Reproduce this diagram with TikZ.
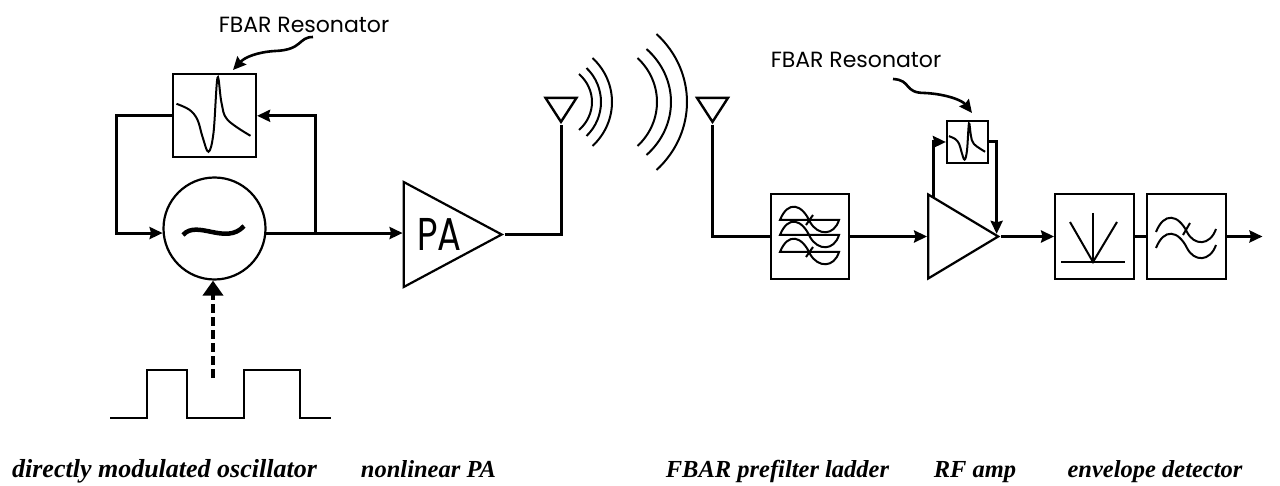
\documentclass[tikz,border=0pt]{standalone}
\usepackage{fontspec}
\usepackage{graphicx}
\usetikzlibrary{arrows.meta, positioning, calc, shapes.geometric}
\setmainfont{Liberation Serif}
\newfontfamily\labelfont{Poppins}

% resonance curve inside an FBAR box
\newcommand{\fbarcurve}[2]{%
  \draw[shift={(#1)}, scale=#2, line width=2pt, -] plot[smooth, tension=0.6] coordinates
    {(-38,-12) (-25,-6) (-17,4) (-12,21) (-6,36) (-1,17) (3,-38) (7,-13) (13,4) (36,20)};}

\begin{document}
\begin{tikzpicture}[
    x=1pt, y=-1pt,
    block/.style={rectangle, draw, line width=2.2pt, minimum width=79pt, minimum height=85pt, inner sep=0pt},
    resbox/.style={rectangle, draw, line width=2.2pt, minimum size=83pt, inner sep=0pt},
    smallres/.style={rectangle, draw, line width=2.2pt, minimum width=41pt, minimum height=42pt, inner sep=0pt},
    ampl/.style={isosceles triangle, isosceles triangle stretches, draw, line width=2.2pt, inner sep=0pt},
    antenna/.style={isosceles triangle, isosceles triangle stretches, shape border rotate=-90, draw, line width=2.4pt,
        minimum width=31pt, minimum height=24pt, inner sep=0pt},
    caption/.style={font=\fontsize{24.5}{25}\selectfont\itshape\bfseries, inner sep=0pt, anchor=base},
    reslabel/.style={font=\fontsize{22}{22}\labelfont, inner sep=0pt},
    wave/.style={line width=2pt, -},
    ->, >={Stealth[length=13pt, width=12pt, inset=1.5pt]}, line width=3pt
]
    \useasboundingbox (0,0) rectangle (1280,486);

    % Transmit chain
    \node[circle, draw, line width=2.2pt, minimum size=102pt, inner sep=0pt] (osc) at (214.5,228.5) {};
    \node[resbox, above=18pt of osc] (restx) {};
    \node[ampl, minimum width=105pt, minimum height=98pt, right=136pt of osc, yshift=-6pt] (pa)
        {\hspace{9pt}\fontsize{46}{46}\labelfont\scalebox{0.77}[1]{PA}};
    \node[antenna, anchor=apex] (txant) at (561,125) {};

    % Receive chain
    \node[antenna, anchor=apex] (rxant) at (712.5,125) {};
    \node[block, minimum width=78pt] (prefilt) at (810,236.5) {};
    \node[ampl, minimum width=84pt, minimum height=70pt, right=77pt of prefilt] (amp) {};
    \node[block, right=53pt of amp] (det) {};
    \node[block, right=11pt of det] (lpf) {};
    \coordinate[right=35pt of lpf] (rxout);
    \node[smallres] (resrx) at (967.5,142) {};

    % Modulating pulse train
    \coordinate (pulsein) at (110,418);
    \coordinate (pulseout) at (331,418);
    \coordinate (modin) at (213,378);
    \draw[line width=2.2pt, -] (pulsein) -- (147,418) -- (147,370) -- (187,370) -- (187,418)
        -- (244,418) -- (244,370) -- (300,370) -- (300,418) -- (pulseout);

    % Edges
    \coordinate (fbtap) at (315,233);
    \draw (osc.-5) -- (osc.-5 -| pa.west);
    \draw (fbtap) |- (restx.east);
    \draw (restx.west) -- ++(-55,0) |- (osc.185);
    \draw[-] (pa.apex) -| (txant.apex);
    \draw[-] (rxant.apex) |- (prefilt.west);
    \draw (prefilt) -- (amp);
    \draw (amp.apex) -- (det);
    \draw[-] (det) -- (lpf);
    \draw (lpf) -- (rxout);
    \draw ($(amp.left corner)!0.09!(amp.apex)$) |- (resrx.west);
    \draw (resrx.east) -| ($(amp.left corner)!0.94!(amp.apex)$);
    \draw[dash pattern=on 9pt off 4pt, line width=4.5pt, -{Stealth[length=15pt, width=20pt, inset=0pt]}] (modin) -- (osc.south -| modin);

    % Box contents
    \fbarcurve{restx.center}{1}
    \fbarcurve{resrx.center}{0.49}
    \draw[line width=4.5pt, -] (183,235) .. controls (197,219) and (226,246) .. (244,226);
    \foreach \row in {0,15,32} {
        \draw[wave] (780,220+\row) .. controls (788,200+\row) and (802,204+\row) .. (810,222+\row)
            .. controls (818,236+\row) and (834,236+\row) .. (839,220+\row) -- cycle;
    }
    \foreach \row in {0,32} \draw[wave] (806,225+\row) -- (813,215+\row);
    \foreach \row in {0,16} {
        \draw[wave] (1156,232+\row) .. controls (1164,212+\row) and (1178,214+\row) .. (1187,232+\row)
            .. controls (1194,246+\row) and (1210,246+\row) .. (1216,229+\row);
    }
    \draw[wave] (1183,235) -- (1190,223);
    \draw[wave] (1061,262) -- (1125,262);
    \draw[wave] (1093,213) -- (1093,262);
    \draw[wave] (1070,222) -- (1093,262) -- (1117,222);

    % Radiated waves
    \foreach \x/\h/\d in {579/28/13, 586.5/34/14.5, 592.5/44/19.5, 637.5/44/19.5, 646.5/53/24.5, 656.5/68/30.5}
        \draw[line width=2pt, -] (\x,102-\h) .. controls (\x+1.333*\d,102-0.45*\h) and (\x+1.333*\d,102+0.45*\h) .. (\x,102+\h);

    % Labels
    \node[reslabel] (labtx) at (304,25) {FBAR Resonator};
    \node[reslabel] (labrx) at (856,60) {FBAR Resonator};
    \coordinate (tiptx) at (233,70);
    \coordinate (tiprx) at (972,113);
    \draw[line width=2.6pt] (313,37) .. controls (298,37) and (303,50) .. (275,51) .. controls (258,52) and (245,57) .. (tiptx);
    \draw[line width=2.6pt] (893,79) .. controls (912,80) and (903,93) .. (925,93) .. controls (945,94) and (962,100) .. (tiprx);
    \node[caption, font=\fontsize{26}{26}\selectfont\itshape\bfseries] (capa) at (164.5,477) {directly modulated oscillator};
    \node[caption] (capb) at (428.5,477) {nonlinear PA};
    \node[caption] (capc) at (777.5,477) {FBAR prefilter ladder};
    \node[caption] (capd) at (975,477) {RF amp};
    \node[caption] (cape) at (1155,477) {envelope detector};
\end{tikzpicture}
\end{document}
